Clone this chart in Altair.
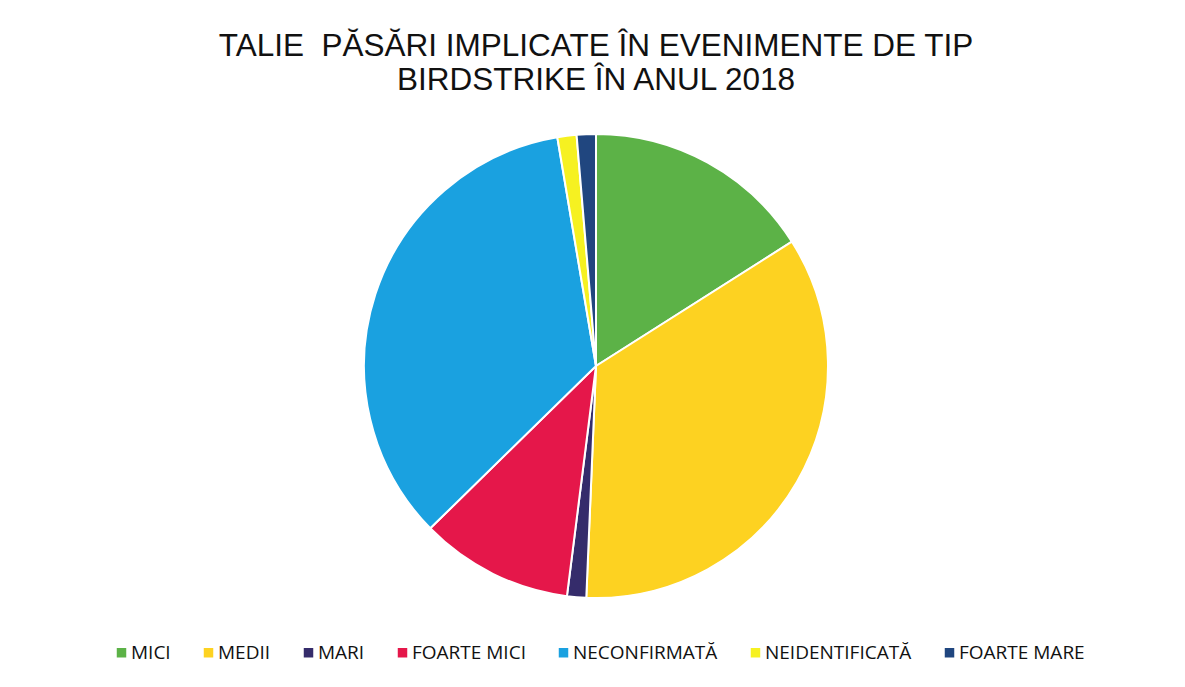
import altair as alt
import pandas as pd

categories = ["MICI", "MEDII", "MARI", "FOARTE MICI", "NECONFIRMATĂ", "NEIDENTIFICATĂ", "FOARTE MARE"]
values = [12, 26, 1, 8, 26, 1, 1]
colors = ["#5cb247", "#fdd221", "#352c6b", "#e5174a", "#1aa1e0", "#f6f121", "#20467f"]
title_lines = ["TALIE\u00a0\u00a0PĂSĂRI IMPLICATE ÎN EVENIMENTE DE TIP", "BIRDSTRIKE ÎN ANUL 2018"]

df = pd.DataFrame({"cat": categories, "val": values, "idx": list(range(len(categories)))})
tdf = pd.DataFrame({"t": title_lines, "i": [0, 1]})

W, H = 1169, 671
CX, CY, R = 588, 358, 232

pie = alt.Chart(df).mark_arc(stroke="white", strokeWidth=2, radius=R).encode(
    theta=alt.Theta("val:Q", stack=True),
    order=alt.Order("idx:Q"),
    color=alt.Color(
        "cat:N",
        sort=categories,
        scale=alt.Scale(domain=categories, range=colors),
        legend=alt.Legend(
            title=None, orient="none", direction="horizontal", columns=7,
            legendX=104, legendY=635, symbolType="square", symbolSize=90,
            labelFont="Open Sans", labelFontSize=19, labelColor="#111111",
            labelOffset=0, columnPadding=28, symbolStrokeWidth=0,
        ),
    ),
    x=alt.value(CX),
    y=alt.value(CY),
)

title1 = alt.Chart(tdf).transform_filter(alt.datum.i == 0).mark_text(
    font="Liberation Sans", fontSize=31.5, color="#111111", align="center", baseline="alphabetic"
).encode(text="t:N", x=alt.value(CX), y=alt.value(48))

title2 = alt.Chart(tdf).transform_filter(alt.datum.i == 1).mark_text(
    font="Liberation Sans", fontSize=31.5, color="#111111", align="center", baseline="alphabetic"
).encode(text="t:N", x=alt.value(CX), y=alt.value(82))

chart = alt.layer(pie, title1, title2).properties(
    width=W, height=H, padding=0
).configure_view(stroke=None)

chart.save("out.html", embed_options={"renderer": "svg", "actions": False})
